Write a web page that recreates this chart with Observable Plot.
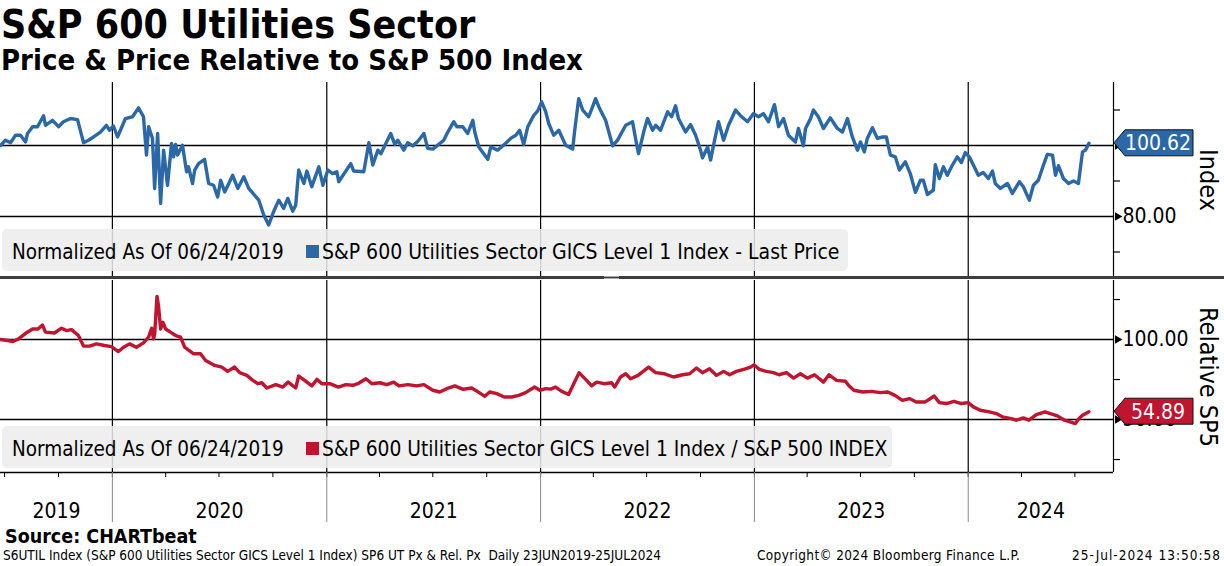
<!DOCTYPE html>
<html><head><meta charset="utf-8">
<script src="https://cdn.jsdelivr.net/npm/d3@7"></script>
<script src="https://cdn.jsdelivr.net/npm/@observablehq/plot@0.6"></script>
<style>
body{margin:0;background:#fff;}
#chart{position:relative;width:1224px;height:566px;overflow:hidden;background:#fff;font-family:'DejaVu Sans Condensed','DejaVu Sans',sans-serif;color:#000;}
.abs{position:absolute;white-space:nowrap;line-height:1;}
.legend{position:absolute;background:rgba(236,236,236,0.86);border-radius:5px;}
.legend span{position:absolute;white-space:nowrap;font-size:21px;line-height:1;top:13px;}
.legend span.sw{width:13px;height:13px;top:16px;}
.rot{position:absolute;white-space:nowrap;font-size:25px;line-height:1;transform:translate(-50%,-50%) rotate(90deg);}
.panel{position:absolute;left:0;}
.foot{position:absolute;white-space:nowrap;line-height:1;top:549px;font-size:13.5px;}
</style></head><body>
<div id="chart">
  <div class="abs" style="left:1px;top:5px;font-size:39px;font-weight:bold;">S&amp;P 600 Utilities Sector</div>
  <div class="abs" style="left:1px;top:46px;font-size:29px;font-weight:bold;">Price &amp; Price Relative to S&amp;P 500 Index</div>
  <div id="top" class="panel" style="top:82px"></div>
  <div id="bottom" class="panel" style="top:280px"></div>
  <div class="abs" style="left:0;top:276px;width:1224px;height:3px;background:#3d3d3d"></div>
  <div class="abs" style="left:604px;top:276px;width:15px;height:1px;border-top:1px solid #aaa;border-bottom:1px solid #aaa"></div>
  <div class="legend" style="left:2px;top:229px;width:846px;height:42px">
    <span style="left:10px;font-size:20.5px">Normalized As Of 06/24/2019</span>
    <span class="sw" style="left:304px;background:#2b68a8"></span>
    <span style="left:320px">S&amp;P 600 Utilities Sector GICS Level 1 Index - Last Price</span>
  </div>
  <div class="legend" style="left:2px;top:426px;width:890px;height:42px">
    <span style="left:10px;font-size:20.5px">Normalized As Of 06/24/2019</span>
    <span class="sw" style="left:304px;background:#c0142f"></span>
    <span style="left:320px;font-size:20.8px">S&amp;P 600 Utilities Sector GICS Level 1 Index / S&amp;P 500 INDEX</span>
  </div>
  <div class="rot" style="left:1208px;top:180px">Index</div>
  <div class="rot" style="left:1208px;top:377px">Relative SP5</div>
  <div class="abs" style="left:5px;top:527px;font-size:19.5px;font-weight:bold;">Source: CHARTbeat</div>
  <div class="foot" style="left:3px;">S6UTIL Index (S&amp;P 600 Utilities Sector GICS Level 1 Index) SP6 UT Px &amp; Rel. Px&nbsp; Daily 23JUN2019-25JUL2024</div>
  <div class="foot" style="left:757px;letter-spacing:0.35px;">Copyright© 2024 Bloomberg Finance L.P.</div>
  <div class="foot" style="right:3px;letter-spacing:1px;">25-Jul-2024 13:50:58</div>
</div>
<script>
// ---- Data (dates as decimal years) ----
const priceYears = [2019.477,2019.500,2019.524,2019.547,2019.570,2019.594,2019.603,2019.627,2019.650,2019.678,
2019.687,2019.720,2019.748,2019.771,2019.804,2019.837,2019.865,2019.888,2019.912,2019.944,
2019.972,2019.986,2020.005,2020.024,2020.061,2020.094,2020.122,2020.145,2020.159,2020.169,
2020.187,2020.197,2020.211,2020.225,2020.239,2020.257,2020.276,2020.285,2020.295,2020.304,
2020.327,2020.346,2020.355,2020.374,2020.384,2020.402,2020.430,2020.449,2020.472,2020.491,
2020.505,2020.524,2020.561,2020.585,2020.613,2020.636,2020.683,2020.706,2020.729,2020.753,
2020.776,2020.799,2020.818,2020.841,2020.855,2020.869,2020.893,2020.907,2020.930,2020.963,
2020.982,2021.005,2021.028,2021.047,2021.056,2021.112,2021.126,2021.173,2021.197,2021.215,
2021.239,2021.253,2021.299,2021.318,2021.332,2021.360,2021.379,2021.402,2021.426,2021.454,
2021.472,2021.496,2021.519,2021.547,2021.566,2021.594,2021.608,2021.636,2021.659,2021.683,
2021.692,2021.711,2021.734,2021.753,2021.767,2021.799,2021.827,2021.860,2021.884,2021.902,
2021.921,2021.940,2021.968,2021.986,2022.005,2022.024,2022.038,2022.061,2022.085,2022.117,
2022.150,2022.159,2022.178,2022.197,2022.225,2022.243,2022.257,2022.276,2022.304,2022.337,
2022.360,2022.398,2022.430,2022.444,2022.458,2022.482,2022.500,2022.524,2022.538,2022.561,
2022.594,2022.613,2022.631,2022.645,2022.678,2022.701,2022.725,2022.748,2022.757,2022.781,
2022.795,2022.809,2022.832,2022.856,2022.879,2022.912,2022.935,2022.968,2022.996,2023.019,
2023.042,2023.066,2023.094,2023.113,2023.136,2023.159,2023.192,2023.206,2023.229,2023.239,
2023.262,2023.276,2023.299,2023.323,2023.355,2023.388,2023.412,2023.435,2023.458,2023.482,
2023.496,2023.514,2023.528,2023.552,2023.575,2023.599,2023.617,2023.636,2023.659,2023.678,
2023.706,2023.729,2023.753,2023.776,2023.790,2023.809,2023.837,2023.846,2023.865,2023.884,
2023.902,2023.926,2023.949,2023.968,2023.986,2024.005,2024.024,2024.047,2024.070,2024.094,
2024.113,2024.126,2024.150,2024.183,2024.206,2024.239,2024.257,2024.285,2024.304,2024.327,
2024.351,2024.369,2024.393,2024.407,2024.421,2024.444,2024.468,2024.491,2024.514,2024.533,
2024.547,2024.563];
const priceValues = [100.0,101.5,100.8,102.9,102.9,101.0,103.4,105.3,105.3,108.4,
105.7,107.1,105.3,106.7,107.6,107.3,100.8,101.5,102.4,103.8,
105.7,104.3,105.5,102.4,107.6,108.1,110.6,108.1,97.3,105.3,
102.0,87.9,103.4,83.7,98.7,88.8,100.6,96.8,100.3,97.3,
100.1,92.6,94.0,89.3,93.1,94.9,96.1,89.3,88.8,85.5,
90.2,86.9,91.6,87.9,91.2,87.9,84.6,80.4,77.6,81.5,
84.6,82.3,85.1,81.5,83.2,93.1,89.3,92.8,88.4,94.0,
88.8,93.1,92.1,92.6,89.8,94.9,92.8,92.6,100.8,94.5,
98.7,97.7,103.4,100.3,101.5,98.7,100.8,99.9,101.2,103.4,
99.2,99.0,100.1,101.5,103.8,106.7,105.3,105.3,103.4,107.1,
103.8,99.6,97.7,96.1,99.6,98.7,100.1,102.0,102.9,104.3,
100.3,105.3,108.5,109.7,112.3,109.5,106.2,102.9,104.3,100.1,
99.0,104.0,113.2,110.0,108.1,110.9,113.2,110.4,107.1,99.9,
101.5,105.7,106.7,102.0,97.7,103.8,107.6,104.3,105.7,104.3,
109.5,108.1,111.2,107.6,103.8,105.9,102.9,98.7,96.5,99.6,
95.9,100.1,106.7,101.5,105.7,110.0,108.4,106.7,109.0,108.1,
109.0,106.7,111.5,105.3,107.6,102.9,101.0,104.8,99.9,104.8,
107.5,110.0,108.1,104.8,107.8,104.8,103.8,107.6,102.4,98.7,
101.0,98.2,102.0,105.0,102.0,102.4,102.4,97.3,96.8,93.1,
95.4,92.1,86.8,90.2,90.2,86.2,87.4,94.6,90.7,94.0,
91.6,94.5,96.8,95.2,98.0,96.8,94.5,91.6,92.4,90.7,
92.8,89.3,87.9,89.3,86.5,89.8,88.4,84.6,88.8,90.2,
94.5,97.5,97.3,91.6,94.3,90.7,89.3,90.0,89.3,98.2,
98.7,100.62];

const relYears = [2019.477,2019.510,2019.535,2019.561,2019.594,2019.627,2019.652,2019.673,2019.687,2019.729,
2019.762,2019.785,2019.809,2019.841,2019.865,2019.893,2019.926,2019.963,2019.996,2020.028,
2020.052,2020.080,2020.112,2020.145,2020.169,2020.183,2020.192,2020.197,2020.208,2020.215,
2020.225,2020.236,2020.248,2020.271,2020.295,2020.318,2020.337,2020.379,2020.411,2020.435,
2020.477,2020.510,2020.538,2020.570,2020.594,2020.627,2020.655,2020.678,2020.697,2020.720,
2020.762,2020.795,2020.820,2020.855,2020.869,2020.897,2020.930,2020.954,2020.977,2021.014,
2021.054,2021.089,2021.122,2021.145,2021.183,2021.211,2021.248,2021.281,2021.313,2021.337,
2021.379,2021.421,2021.454,2021.496,2021.528,2021.561,2021.599,2021.638,2021.678,2021.713,
2021.739,2021.762,2021.795,2021.830,2021.865,2021.898,2021.930,2021.972,2021.996,2022.024,
2022.047,2022.070,2022.099,2022.131,2022.155,2022.180,2022.215,2022.239,2022.262,2022.297,
2022.332,2022.346,2022.374,2022.398,2022.421,2022.456,2022.505,2022.538,2022.580,2022.622,
2022.664,2022.697,2022.729,2022.757,2022.790,2022.823,2022.856,2022.884,2022.916,2022.958,
2022.982,2022.998,2023.024,2023.056,2023.089,2023.115,2023.150,2023.183,2023.215,2023.248,
2023.281,2023.323,2023.349,2023.384,2023.426,2023.440,2023.465,2023.507,2023.547,2023.589,
2023.624,2023.657,2023.692,2023.725,2023.757,2023.799,2023.841,2023.865,2023.898,2023.933,
2023.968,2024.000,2024.024,2024.056,2024.098,2024.131,2024.159,2024.201,2024.224,2024.257,
2024.283,2024.318,2024.358,2024.383,2024.416,2024.449,2024.475,2024.500,2024.517,2024.533,
2024.563];
const relValues = [100.0,99.4,98.8,100.4,103.9,106.6,106.6,109.1,104.6,104.1,
107.1,105.6,106.2,102.5,95.9,95.9,97.3,96.3,95.6,92.5,
95.2,97.3,95.2,97.9,101.5,107.1,100.4,102.9,127.0,121.2,
106.6,110.8,106.6,104.6,102.5,101.5,95.2,91.1,91.1,86.9,
83.8,82.8,80.1,82.8,79.3,77.6,74.5,72.4,73.0,69.7,
71.8,70.3,73.4,69.7,77.2,74.5,71.0,75.1,72.4,72.4,
70.3,71.8,71.4,72.4,75.5,72.4,73.0,71.8,73.4,71.0,
71.8,71.0,71.8,68.3,67.2,69.3,71.0,68.9,69.7,66.8,
64.5,67.2,66.2,64.1,64.1,65.1,66.8,70.3,68.3,69.3,
69.0,70.3,67.6,65.6,72.4,79.3,74.5,71.0,73.4,72.4,
73.0,70.3,76.6,78.6,75.5,77.6,82.8,79.3,78.6,76.6,
78.0,78.6,82.2,79.3,81.7,77.6,80.1,78.0,80.1,81.7,
82.8,84.2,81.3,80.1,79.3,78.0,79.3,75.9,78.6,75.9,
78.0,73.4,78.0,74.5,73.9,71.4,68.3,67.2,67.6,66.8,
67.2,65.1,62.0,63.1,61.0,61.0,64.7,60.6,60.0,61.4,
60.0,60.6,57.9,55.8,54.8,53.7,51.7,50.6,49.6,51.0,
49.6,53.1,54.8,53.7,52.3,49.6,48.5,47.5,50.6,52.7,
54.89];

const priceTicks = [80, 100];
const priceLabelTicks = [80];
const priceMinorTicks = [70, 90, 110];
const relTicks = [50, 100];
const relMinorTicks = [25, 75, 125];
const yearLabels = ["2019", "2020", "2021", "2022", "2023", "2024"];
const startDate = "2019-06-24";
const endDate = "2024-09-05";
const priceLabel = "100.62";
const relLabel = "54.89";

// ---- Styling ----
const BLUE = "#2b68a8", RED = "#c0142f";
const FONT = "'DejaVu Sans Condensed','DejaVu Sans',sans-serif";
const priceDomain = [63.1, 117.75];
const relDomain = [16.9, 136.9];

function fromDecimalYear(y) {
  const yr = Math.floor(y);
  const a = Date.UTC(yr, 0, 1), b = Date.UTC(yr + 1, 0, 1);
  return new Date(a + (y - yr) * (b - a));
}
const priceRows = priceYears.map((y, i) => ({date: fromDecimalYear(y), value: priceValues[i]}));
const relRows = relYears.map((y, i) => ({date: fromDecimalYear(y), value: relValues[i]}));

const xDomain = [new Date(startDate), new Date(endDate)];
const yearStarts = d3.range(2020, 2025).map(y => new Date(Date.UTC(y, 0, 1)));
const quarterStarts = d3.utcMonth.every(3).range(new Date(Date.UTC(2019, 6, 1)), xDomain[1]);
const bounds = [xDomain[0], ...yearStarts, xDomain[1]];
const yearMids = d3.pairs(bounds).map(([a, b], i) => ({date: new Date((+a + +b) / 2), label: yearLabels[i]}));

function panelMarks(rows, color, ticks, labelTicks, minor) {
  return [
    Plot.ruleX(yearStarts, {stroke: "#000", strokeWidth: 1.2}),
    Plot.ruleY(ticks, {stroke: "#000", strokeWidth: 1.4}),
    Plot.line(rows, {x: "date", y: "value", stroke: color, strokeWidth: 3.4, strokeLinejoin: "round"}),
    Plot.ruleX([xDomain[1]], {stroke: "#000", strokeWidth: 1.2}),
    Plot.axisY({anchor: "right", ticks: minor, tickSize: 6, tickFormat: () => "", label: null, strokeWidth: 1.2}),
    Plot.axisY({anchor: "right", ticks: labelTicks, tickSize: 0, tickPadding: 9, tickFormat: d3.format(".2f"), label: null, fontSize: 21, fill: "#000"}),
    Plot.dot(ticks, {y: d => d, frameAnchor: "right", symbol: "triangle", rotate: 90, r: 3.2, fill: "#000", dx: 4})
  ];
}

const topPlot = Plot.plot({
  width: 1224, height: 194,
  marginLeft: 0, marginRight: 111, marginTop: 0, marginBottom: 0,
  style: {fontFamily: FONT, background: "transparent", overflow: "visible"},
  x: {type: "utc", domain: xDomain, axis: null},
  y: {domain: priceDomain, axis: null},
  marks: panelMarks(priceRows, BLUE, priceTicks, priceLabelTicks, priceMinorTicks)
});

const bottomPlot = Plot.plot({
  width: 1224, height: 242,
  marginLeft: 0, marginRight: 111, marginTop: 0, marginBottom: 50,
  style: {fontFamily: FONT, background: "transparent", overflow: "visible"},
  x: {type: "utc", domain: xDomain, axis: null},
  y: {domain: relDomain, axis: null},
  marks: [
    ...panelMarks(relRows, RED, relTicks, relTicks, relMinorTicks),
    Plot.ruleY([relDomain[0]], {stroke: "#000", strokeWidth: 1.4}),
    Plot.axisX({anchor: "bottom", ticks: quarterStarts, tickSize: 5, tickFormat: () => "", label: null, strokeWidth: 1}),
    Plot.axisX({anchor: "bottom", ticks: yearStarts, tickSize: 50, tickFormat: () => "", label: null, stroke: "#8a8a8a", strokeWidth: 1}),
    Plot.text(yearMids, {x: "date", text: "label", frameAnchor: "bottom", lineAnchor: "middle", dy: 39, fontSize: 21, fill: "#000"})
  ]
});

function addTag(plot, value, color, label) {
  const x0 = plot.scale("x").apply(xDomain[1]);
  const y = plot.scale("y").apply(value);
  const svg = d3.select(plot);
  svg.append("path")
    .attr("d", `M${x0 + 1},${y} L${x0 + 12},${y - 13} H${x0 + 80} V${y + 13} H${x0 + 12} Z`)
    .attr("fill", color).attr("stroke", "#111").attr("stroke-width", 1);
  svg.append("text")
    .attr("x", x0 + 45).attr("y", y).attr("dy", "0.36em")
    .attr("text-anchor", "middle").attr("fill", "#fff")
    .attr("font-size", 21).attr("font-family", FONT).text(label);
}
addTag(topPlot, priceValues[priceValues.length - 1], BLUE, priceLabel);
addTag(bottomPlot, relValues[relValues.length - 1], RED, relLabel);

document.getElementById("top").appendChild(topPlot);
document.getElementById("bottom").appendChild(bottomPlot);
</script>
</body></html>
